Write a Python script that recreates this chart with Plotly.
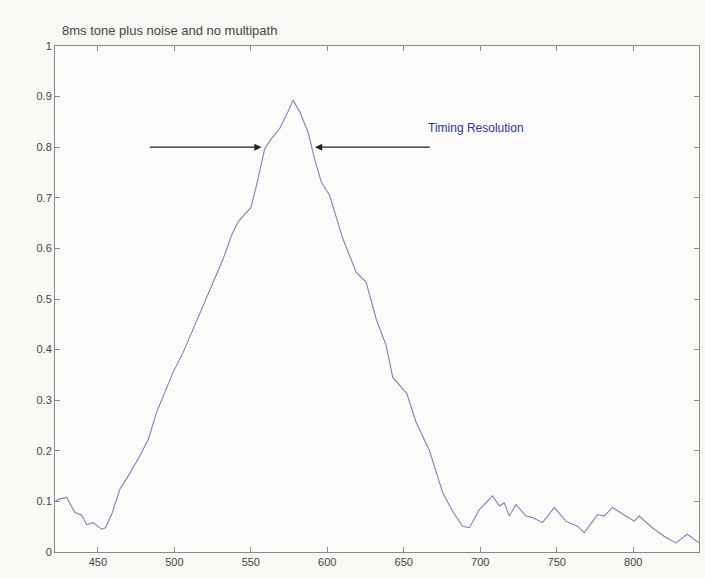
import plotly.graph_objects as go

# ---- data ----
sample_index = [422, 425, 429.6, 435, 439.4, 442.7, 447, 452.5, 455, 459, 464.4, 469.8,
                477.5, 482.9, 488.4, 493.8, 499.2, 505.7, 512.3, 518.8, 525.3, 531.9,
                537.3, 541.6, 547.1, 550, 553.7, 559.1, 563, 568.9, 574.3, 577.6, 582,
                587.4, 591.7, 596.1, 601.5, 610.2, 618.9, 625.4, 632, 638.5, 642.8, 652,
                658.1, 666.8, 675.5, 682, 688.5, 692.9, 699.4, 704, 708.1, 712.5, 715.7,
                719, 723.4, 729.9, 734.2, 740.7, 748.4, 756, 763.6, 768, 776.6, 781,
                786.4, 795.2, 800.6, 803.9, 812.5, 820.2, 827.8, 835.4, 843]
correlation = [0.10, 0.105, 0.108, 0.078, 0.073, 0.054, 0.058, 0.045, 0.048, 0.074, 0.124,
               0.15, 0.19, 0.222, 0.276, 0.316, 0.355, 0.394, 0.441, 0.487, 0.533, 0.579,
               0.625, 0.652, 0.671, 0.68, 0.724, 0.797, 0.815, 0.837, 0.87, 0.893, 0.87,
               0.83, 0.777, 0.731, 0.705, 0.619, 0.553, 0.533, 0.46, 0.408, 0.345, 0.313,
               0.256, 0.2, 0.117, 0.08, 0.051, 0.048, 0.084, 0.098, 0.111, 0.091, 0.097,
               0.071, 0.094, 0.071, 0.068, 0.058, 0.088, 0.061, 0.051, 0.038, 0.074, 0.071,
               0.088, 0.071, 0.061, 0.071, 0.048, 0.031, 0.018, 0.035, 0.018]

x_ticks = [450, 500, 550, 600, 650, 700, 750, 800]
y_ticks = [0, 0.1, 0.2, 0.3, 0.4, 0.5, 0.6, 0.7, 0.8, 0.9, 1]
y_tick_labels = ["0", "0.1", "0.2", "0.3", "0.4", "0.5", "0.6", "0.7", "0.8", "0.9", "1"]

title_text = "8ms tone plus noise and no multipath"
note_text = "Timing Resolution"
arrow_level = 0.8
left_arrow = (483, 557)    # tail x, head x
right_arrow = (668, 592)   # tail x, head x
note_pos = (697, 0.837)

fig = go.Figure()
fig.add_trace(go.Scatter(x=sample_index, y=correlation, mode="lines",
                         line=dict(color="#7c84bc", width=1.1), showlegend=False))

axis_common = dict(showline=True, linecolor="#8a8a8a", linewidth=1, mirror="ticks",
                   ticks="inside", ticklen=5, tickcolor="#8a8a8a", showgrid=False,
                   zeroline=False, tickfont=dict(family="Liberation Sans, Arial", size=11,
                                                 color="#444"))

fig.update_layout(
    width=705, height=578,
    margin=dict(l=55, r=6, t=46, b=26),
    paper_bgcolor="#f8f8f5", plot_bgcolor="#fbfbf9",
    xaxis=dict(range=[422, 843], tickvals=x_ticks, **axis_common),
    yaxis=dict(range=[0, 1], tickvals=y_ticks, ticktext=y_tick_labels, **axis_common),
    annotations=[
        dict(x=0.0, y=1.0, xref="paper", yref="paper", text=title_text, showarrow=False,
             xanchor="left", yanchor="bottom", xshift=5, yshift=6,
             font=dict(family="Liberation Sans, Arial", size=13, color="#444")),
        dict(x=left_arrow[1], y=arrow_level, ax=left_arrow[0], ay=arrow_level,
             xref="x", yref="y", axref="x", ayref="y", text="", showarrow=True,
             arrowhead=2, arrowsize=1.1, arrowwidth=1.3, arrowcolor="#222"),
        dict(x=right_arrow[1], y=arrow_level, ax=right_arrow[0], ay=arrow_level,
             xref="x", yref="y", axref="x", ayref="y", text="", showarrow=True,
             arrowhead=2, arrowsize=1.1, arrowwidth=1.3, arrowcolor="#222"),
        dict(x=note_pos[0], y=note_pos[1], xref="x", yref="y", text=note_text,
             showarrow=False, font=dict(family="Liberation Sans, Arial", size=12,
                                        color="#33339a")),
    ],
)

fig.write_html("out.html")
